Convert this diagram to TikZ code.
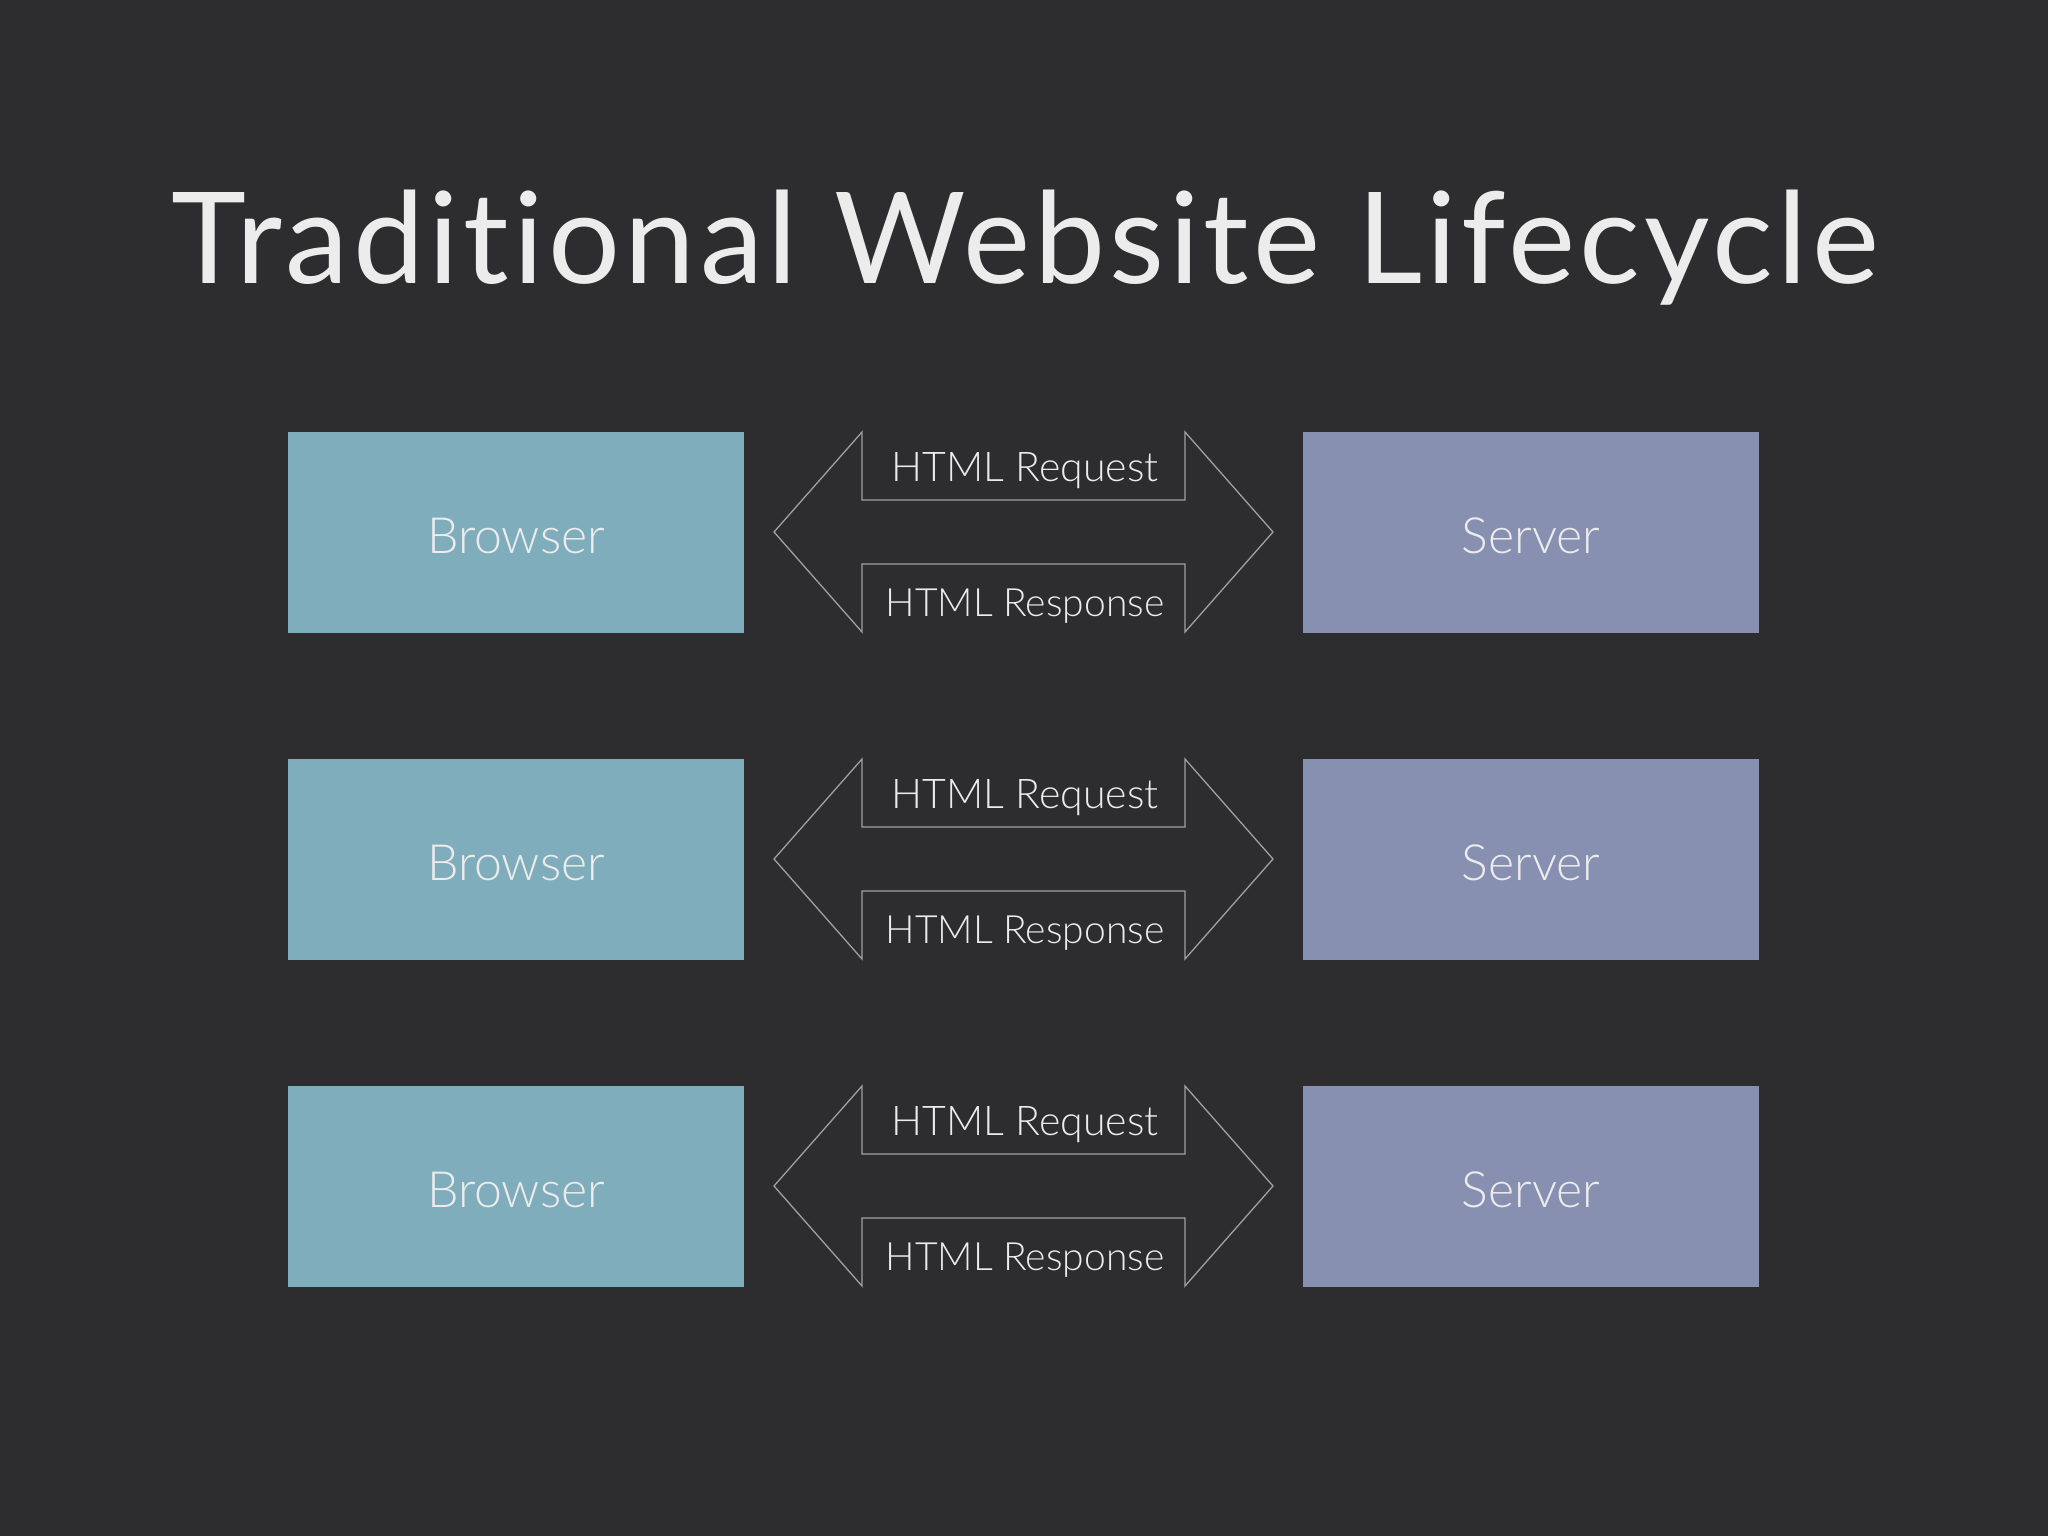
\documentclass[tikz,border=0pt]{standalone}
\usepackage{fontspec}
\setmainfont{Lato Light}[Ligatures={NoCommon}]
\newfontfamily\titlefont{Lato}[Ligatures={NoCommon}, LetterSpace=3.4]
\definecolor{bg}{HTML}{2D2D2F}
\definecolor{browserc}{HTML}{7FADBC}
\definecolor{serverc}{HTML}{8890B2}
\definecolor{txt}{HTML}{ECECEC}
\definecolor{linec}{HTML}{A0A0A0}
\tikzset{
  box/.style={minimum width=456pt, minimum height=201pt, inner sep=0pt},
  browserbox/.style={box, fill=browserc},
  serverbox/.style={box, fill=serverc},
  boxtext/.style={text=txt, font=\fontsize{50}{60}\selectfont, inner sep=0pt, anchor=base},
  msg/.style={text=txt, inner sep=0pt, anchor=base},
  arrowline/.style={draw=linec, line width=1.3pt, line join=miter},
}
\begin{document}
\begin{tikzpicture}[x=1pt,y=-1pt]
\fill[bg] (0,0) rectangle (2048,1536);
\useasboundingbox (0,0) rectangle (2048,1536);
\node[text=txt, font=\titlefont\fontsize{127}{140}\selectfont, inner sep=0pt, anchor=base] (title) at (1025,283) {Traditional Website Lifecycle};
\foreach \i/\cy in {1/532,2/859,3/1186} {
  \node[browserbox] (b\i) at (516,\cy) {};
  \node[boxtext] (bt\i) at (516,\cy+21) {Browser};
  \node[serverbox] (s\i) at (1531,\cy) {};
  \node[boxtext] (st\i) at (1531,\cy+21) {Server};
  \coordinate (lt\i) at (774,\cy);
  \coordinate (rt\i) at (1273,\cy);
  \draw[arrowline] (lt\i) -- ++(88,-100) -- ++(0,68) -- ++(323,0) -- ++(0,-68) -- (rt\i)
     -- ++(-88,100) -- ++(0,-68) -- ++(-323,0) -- ++(0,68) -- cycle;
  \node[msg, font=\fontsize{41}{50}\selectfont] (req\i) at (1025,\cy-51) {HTML Request};
  \node[msg, font=\fontsize{39}{50}\selectfont] (res\i) at (1025,\cy+84) {HTML Response};
}
\end{tikzpicture}
\end{document}
